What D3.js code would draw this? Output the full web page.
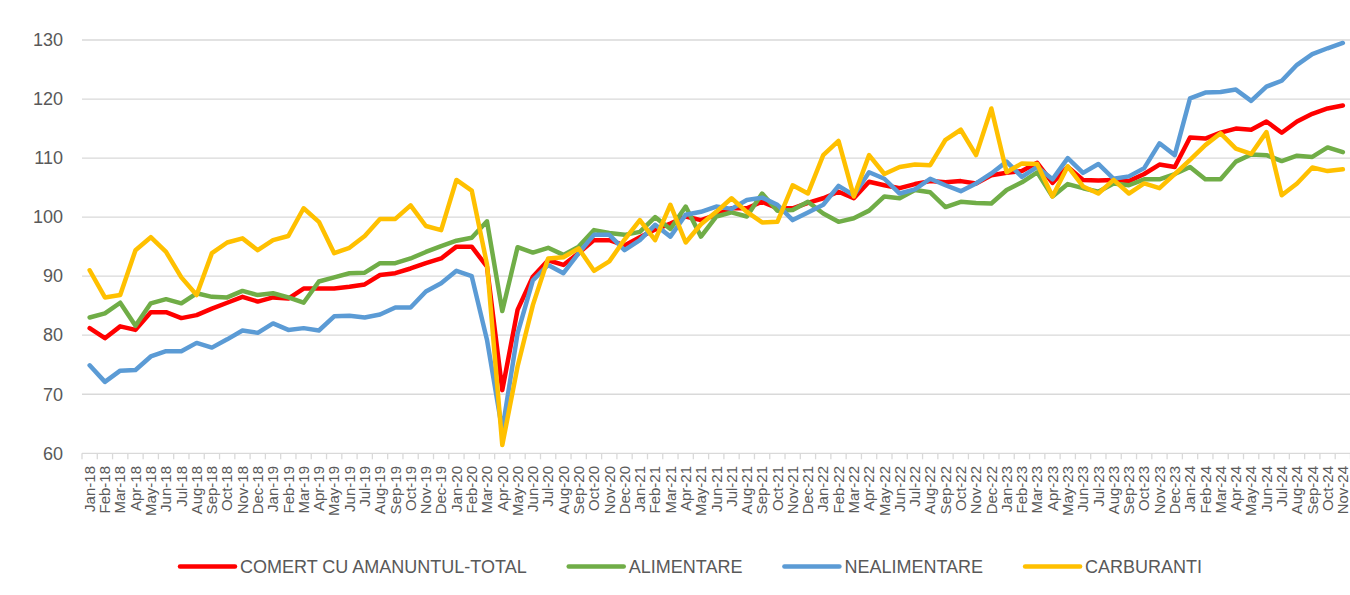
<!DOCTYPE html>
<html>
<head>
<meta charset="utf-8">
<script src="https://cdn.jsdelivr.net/npm/d3@7"></script>
<style>
  html, body { margin: 0; padding: 0; background: #fff; }
  svg { display: block; font-family: "Liberation Sans", Arial, sans-serif; }
</style>
</head>
<body>
<svg id="chart" width="1350" height="595"></svg>
<script>
const months = ["Jan","Feb","Mar","Apr","May","Jun","Jul","Aug","Sep","Oct","Nov","Dec"];
const categories = [];
for (let y = 18; y <= 24; y++) {
  for (let m = 0; m < 12; m++) {
    if (y === 24 && m > 10) break;
    categories.push(months[m] + "-" + y);
  }
}

const seriesNames = ["COMERT CU AMANUNTUL-TOTAL", "ALIMENTARE", "NEALIMENTARE", "CARBURANTI"];

const total = [81.2,79.5,81.5,80.9,83.9,83.9,82.9,83.4,84.5,85.5,
  86.5,85.7,86.4,86.2,87.9,87.9,87.9,88.2,88.6,90.2,
  90.5,91.3,92.2,93.0,95.0,95.0,91.6,70.7,84.3,89.9,
  92.7,91.9,93.9,96.1,96.1,95.2,96.6,97.9,98.9,100.1,
  99.5,100.4,101.5,101.5,102.6,101.5,101.5,102.4,103.2,104.3,
  103.2,106.0,105.4,104.9,105.6,106.1,105.9,106.1,105.7,107.1,
  107.5,107.8,109.2,105.8,108.5,106.3,106.2,106.3,106.1,107.3,
  108.9,108.5,113.5,113.3,114.3,115.0,114.8,116.2,114.3,116.2,
  117.5,118.4,118.9];

const alimentare = [83.0,83.7,85.5,81.6,85.4,86.1,85.4,87.1,86.5,86.4,
  87.5,86.8,87.1,86.4,85.5,89.1,89.8,90.5,90.6,92.2,
  92.2,93.0,94.1,95.1,96.0,96.5,99.3,84.1,94.9,94.0,
  94.8,93.6,95.0,97.8,97.3,97.0,97.5,100.0,98.0,101.8,
  96.7,100.1,100.8,100.1,104.0,101.1,101.2,102.6,100.6,99.2,
  99.8,101.1,103.5,103.2,104.6,104.2,101.7,102.6,102.4,102.3,
  104.6,105.9,107.6,103.5,105.6,104.9,104.3,105.7,105.4,106.4,
  106.4,107.3,108.5,106.4,106.4,109.4,110.6,110.5,109.5,110.4,
  110.2,111.8,111.0];

const nealimentare = [74.9,72.1,74.0,74.1,76.4,77.3,77.3,78.7,77.9,79.3,
  80.8,80.4,82.0,80.9,81.2,80.8,83.2,83.3,83.0,83.5,
  84.7,84.7,87.4,88.8,90.9,90.0,79.2,63.9,80.3,89.3,
  91.9,90.5,93.9,97.0,97.0,94.4,96.1,98.7,96.7,100.4,
  100.9,101.8,101.4,102.9,103.3,102.1,99.5,100.8,102.1,105.3,
  103.7,107.6,106.5,104.0,104.7,106.5,105.4,104.4,105.7,107.4,
  109.4,106.8,108.5,106.4,110.0,107.5,109.0,106.5,106.9,108.3,
  112.5,110.5,120.1,121.1,121.2,121.6,119.7,122.1,123.1,125.8,
  127.6,128.6,129.5];

const carburanti = [91.0,86.4,86.8,94.4,96.6,94.1,89.8,86.8,93.9,95.7,
  96.4,94.4,96.1,96.8,101.5,99.2,93.9,94.8,96.8,99.7,
  99.7,102.0,98.5,97.8,106.3,104.5,92.0,61.4,74.7,85.1,
  93.0,93.2,94.7,90.9,92.5,96.2,99.5,96.1,102.1,95.7,
  98.8,100.9,103.2,100.9,99.1,99.2,105.4,104.0,110.5,112.9,
  103.5,110.5,107.3,108.5,108.9,108.8,113.1,114.8,110.5,118.4,
  107.6,109.1,109.0,103.5,108.6,105.2,104.0,106.3,104.0,105.7,
  104.9,107.3,109.7,112.2,114.2,111.6,110.7,114.4,103.7,105.7,
  108.4,107.8,108.1];

const yTicks = [60,70,80,90,100,110,120,130];
const colors = ["#FF0000", "#70AD47", "#5B9BD5", "#FFC000"];
const seriesValues = [total, alimentare, nealimentare, carburanti];

const svg = d3.select("#chart");
const plot = {left: 82, right: 1350.5, top: 40, bottom: 453.3};

const x = d3.scaleBand().domain(categories).range([plot.left, plot.right]).padding(0);
const y = d3.scaleLinear().domain([60, 130]).range([plot.bottom, plot.top]);
const cx = c => x(c) + x.bandwidth() / 2;

// gridlines
svg.append("g").selectAll("line").data(yTicks.filter(t => t !== 60)).join("line")
  .attr("x1", plot.left).attr("x2", plot.right)
  .attr("y1", d => y(d)).attr("y2", d => y(d))
  .attr("stroke", "#D9D9D9").attr("stroke-width", 1.3);

// y axis labels
const yAxis = d3.axisLeft(y).tickValues(yTicks).tickSize(0).tickPadding(0);
const yg = svg.append("g").attr("transform", `translate(${63},0)`).call(yAxis);
yg.select(".domain").remove();
yg.selectAll("text").attr("font-size", 18).attr("fill", "#595959")
  .attr("font-family", "'Liberation Sans', Arial, sans-serif");

// x axis line and ticks between categories
const xg = svg.append("g");
xg.append("line").attr("x1", plot.left).attr("x2", plot.right)
  .attr("y1", y(60)).attr("y2", y(60)).attr("stroke", "#D9D9D9").attr("stroke-width", 1.3);
const edges = categories.map(c => x(c)).concat([plot.right]);
xg.selectAll("line.tk").data(edges).join("line").attr("class", "tk")
  .attr("x1", d => d).attr("x2", d => d)
  .attr("y1", y(60)).attr("y2", y(60) + 6)
  .attr("stroke", "#D9D9D9").attr("stroke-width", 1.3);
xg.selectAll("text").data(categories).join("text")
  .attr("transform", d => `translate(${cx(d)},${466}) rotate(-90)`)
  .attr("text-anchor", "end")
  .attr("dy", "0.35em")
  .attr("font-size", 15)
  .attr("fill", "#595959")
  .text(d => d);

// lines
const line = d3.line().x((d, i) => cx(categories[i])).y(d => y(d));
svg.append("g").selectAll("path").data(seriesValues).join("path")
  .attr("d", d => line(d))
  .attr("fill", "none")
  .attr("stroke", (d, i) => colors[i])
  .attr("stroke-width", 4.5)
  .attr("stroke-linejoin", "round")
  .attr("stroke-linecap", "round");

// legend
const lg = svg.append("g");
let lx = 180;
const ly = 566.5;
seriesNames.forEach((name, i) => {
  lg.append("line").attr("x1", lx).attr("x2", lx + 55).attr("y1", ly).attr("y2", ly)
    .attr("stroke", colors[i]).attr("stroke-width", 4.5).attr("stroke-linecap", "round");
  const t = lg.append("text").attr("x", lx + 60).attr("y", ly).attr("dy", "0.35em")
    .attr("font-size", 18).attr("fill", "#595959").text(name);
  const w = t.node().getComputedTextLength();
  lx = lx + 60 + w + 42;
});
</script>
</body>
</html>
